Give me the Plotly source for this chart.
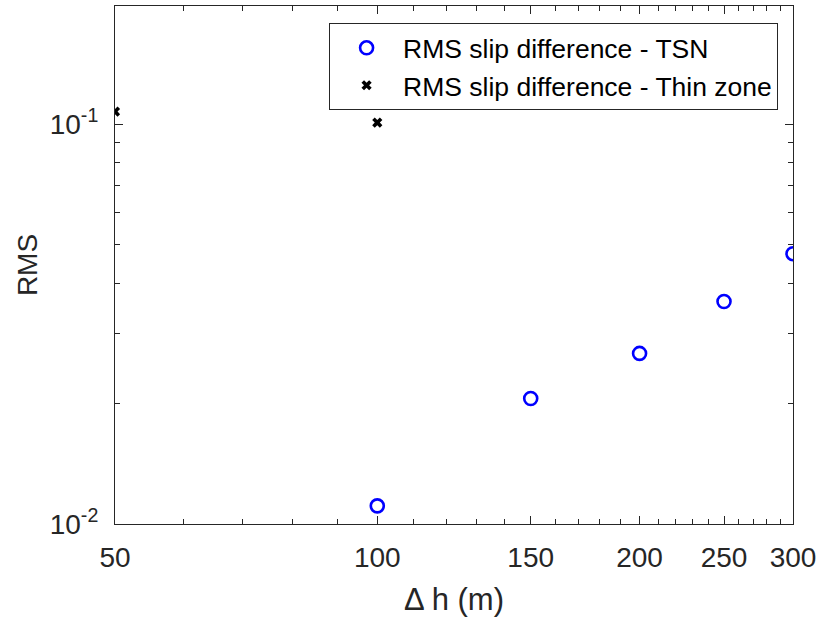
import plotly.graph_objects as go

tsn_x = [100, 150, 200, 250, 300]
tsn_y = [0.0111, 0.0206, 0.0267, 0.0360, 0.0474]
thin_x = [50, 100]
thin_y = [0.1074, 0.1008]

x_ticks = [50, 100, 150, 200, 250, 300]
y_ticks = [0.01, 0.1]
y_ticktext = ["10<sup>-2</sup>", "10<sup>-1</sup>"]

fig = go.Figure()
fig.add_trace(go.Scatter(
    x=tsn_x, y=tsn_y, mode="markers", name="RMS slip difference - TSN",
    marker=dict(symbol="circle-open", size=13, color="#0000ff", line=dict(width=2.6, color="#0000ff")),
))
fig.add_trace(go.Scatter(
    x=thin_x, y=thin_y, mode="markers", name="RMS slip difference - Thin zone",
    marker=dict(symbol="x", size=9, color="black", line=dict(width=0)),
))

font_family = "Liberation Sans, Arial, sans-serif"
fig.update_layout(
    width=822, height=619,
    margin=dict(l=115, r=29, t=6, b=95),
    paper_bgcolor="white", plot_bgcolor="white",
    font=dict(family=font_family, color="#262626"),
    showlegend=True,
    legend=dict(
        x=0.978, y=0.967, xanchor="right", yanchor="top",
        bgcolor="white", bordercolor="#262626", borderwidth=1,
        font=dict(size=26.5, color="#000000"),
        itemsizing="trace", itemwidth=63, tracegroupgap=0,
    ),
)
fig.update_xaxes(
    type="log", range=[1.69897, 2.4771213],
    tickmode="array", tickvals=x_ticks, ticktext=[str(v) for v in x_ticks],
    ticks="inside", ticklen=8, tickwidth=1, tickcolor="#262626",
    showline=True, linecolor="#262626", linewidth=1.2, mirror="ticks",
    showgrid=False, zeroline=False,
    tickfont=dict(size=28, color="#262626"),
    ticklabelstandoff=8,
    title=dict(text="Δ h (m)", font=dict(size=31, color="#262626"), standoff=16),
    minor=dict(tickmode="array", tickvals=[60, 70, 80, 90, 110, 120, 130, 140, 160, 170, 180, 190, 210, 220, 230, 240, 260, 270, 280, 290],
               ticks="inside", ticklen=5, tickcolor="#262626", showgrid=False),
)
fig.update_yaxes(
    type="log", range=[-2, -0.705],
    tickmode="array", tickvals=y_ticks, ticktext=y_ticktext,
    ticks="inside", ticklen=8, tickwidth=1, tickcolor="#262626",
    showline=True, linecolor="#262626", linewidth=1.2, mirror="ticks",
    showgrid=False, zeroline=False,
    tickfont=dict(size=28, color="#262626"),
    ticklabelstandoff=10,
    title=dict(text="RMS", font=dict(size=28, color="#262626"), standoff=3),
    minor=dict(tickmode="array", tickvals=[0.02, 0.03, 0.04, 0.05, 0.06, 0.07, 0.08, 0.09, 0.2],
               ticks="inside", ticklen=5, tickcolor="#262626", showgrid=False),
)

fig.write_html("out.html")
